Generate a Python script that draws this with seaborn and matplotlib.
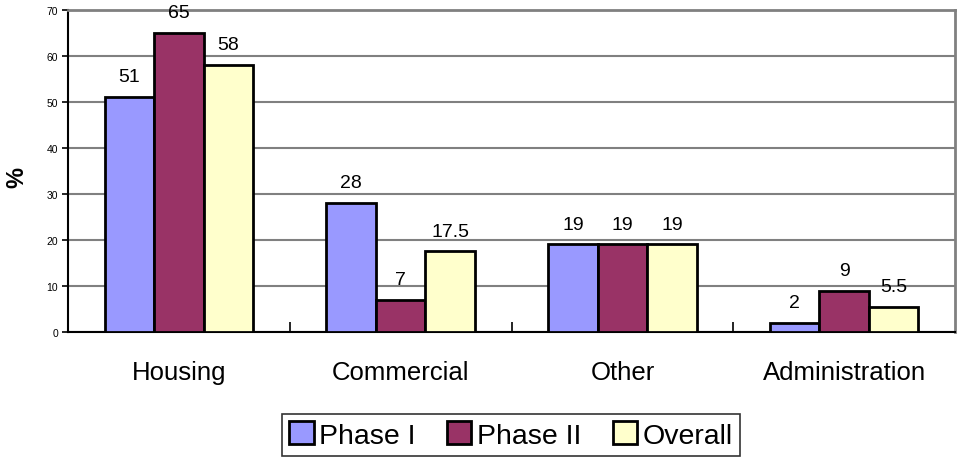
import matplotlib
matplotlib.use("Agg")
import matplotlib.pyplot as plt
import seaborn as sns
import pandas as pd

categories = ["Housing", "Commercial", "Other", "Administration"]
series = ["Phase I", "Phase II", "Overall"]
phase1 = [51, 28, 19, 2]
phase2 = [65, 7, 19, 9]
overall = [58, 17.5, 19, 5.5]
colors = ["#9999FF", "#993366", "#FFFFCC"]
yticks = [0, 10, 20, 30, 40, 50, 60, 70]

rows = []
for name, vals in zip(series, [phase1, phase2, overall]):
    for c, v in zip(categories, vals):
        rows.append({"Category": c, "Series": name, "Value": v})
df = pd.DataFrame(rows)

sns.set_theme(style="white")
plt.rcParams["font.family"] = ["Liberation Sans", "DejaVu Sans"]
plt.rcParams["text.color"] = "black"
plt.rcParams["axes.labelcolor"] = "black"
plt.rcParams["xtick.color"] = "black"
plt.rcParams["ytick.color"] = "black"

fig = plt.figure(figsize=(9.57, 4.60), dpi=100)
ax = fig.add_axes([68/957, (460-333)/460, (955-68)/957, (333-10.5)/460])

sns.barplot(data=df, x="Category", y="Value", hue="Series", order=categories,
            hue_order=series, palette=colors, width=0.67, edgecolor="black",
            linewidth=2, saturation=1, ax=ax, zorder=3)

for cont in ax.containers:
    labels = [("%g" % v) for v in cont.datavalues]
    ax.bar_label(cont, labels=labels, padding=8.5, fontsize=14, color="black")

ax.set_ylim(0, 70)
ax.set_xlim(-0.5, 3.5)
ax.set_yticks(yticks)
ax.set_yticklabels([str(t) for t in yticks], fontsize=7.5)
ax.yaxis.grid(True, color="#808080", linewidth=1.5, zorder=0)
ax.set_axisbelow(True)
ax.tick_params(axis="y", left=True, direction="out", length=4, width=1.2, color="black",
               labelcolor="black", pad=3)
ax.tick_params(axis="x", which="major", bottom=False, length=0, pad=20, labelcolor="black")
for lab in ax.get_xticklabels():
    lab.set_fontsize(18.5)
ax.set_xticks([0.5, 1.5, 2.5], minor=True)
ax.tick_params(axis="x", which="minor", bottom=True, direction="in", length=7, width=1.2, color="black")

for s in ["left", "bottom"]:
    ax.spines[s].set_color("black")
    ax.spines[s].set_linewidth(1.5)
for s in ["top", "right"]:
    ax.spines[s].set_color("#808080")
    ax.spines[s].set_linewidth(2)

ax.set_xlabel("")
ax.set_ylabel("%", fontsize=17, fontweight="bold", color="black")
ax.yaxis.set_label_coords((28-68)/887, (333-178)/322.5)

leg = ax.legend(loc="center", bbox_to_anchor=(511/957, (460-436)/460),
                bbox_transform=fig.transFigure, ncol=3, fontsize=20.5,
                frameon=True, fancybox=False, edgecolor="black",
                handlelength=0.85, handleheight=0.85, handletextpad=0.2,
                columnspacing=1.1, borderpad=0.25)
leg.get_frame().set_linewidth(1.2)
for t in leg.get_texts():
    t.set_color("black")
for h in leg.legend_handles:
    h.set_edgecolor("black")
    h.set_linewidth(2)

fig.savefig("out.png", dpi=100)
